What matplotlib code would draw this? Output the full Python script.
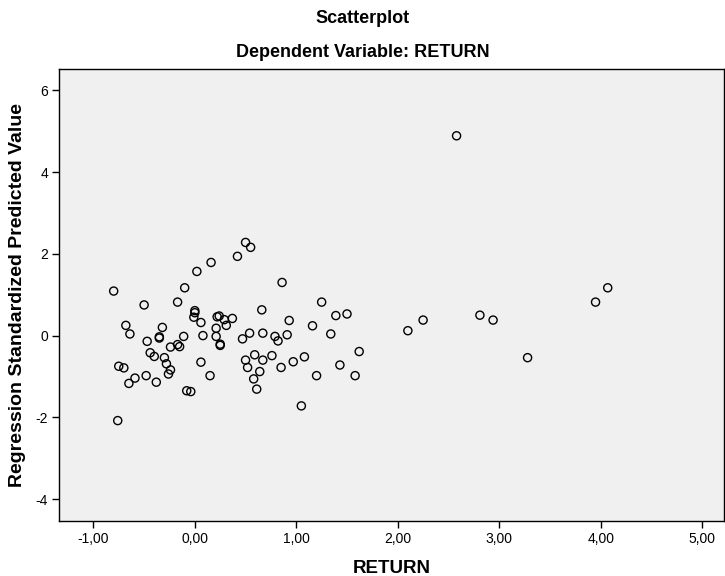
import matplotlib
matplotlib.use('Agg')
import matplotlib.pyplot as plt

plt.rcParams['font.family'] = ['Liberation Sans', 'DejaVu Sans']

# RETURN (x) vs Regression Standardized Predicted Value (y)
ret = [0.50, 0.55, 0.42, 0.16, 0.02, -0.10, -0.80, -0.17, -0.50, 0.00,
       0.00, -0.01, 0.06, 0.22, 0.24, 0.29, 0.37, 0.31, 0.21, -0.68,
       -0.64, -0.32, -0.35, -0.35, -0.11, 0.08, 0.21, 0.47, 0.54, -0.47,
       -0.24, -0.17, -0.15, 0.25, 0.25, -0.44, -0.40, -0.30, -0.28, -0.24,
       -0.26, -0.75, -0.70, -0.59, -0.65, -0.48, -0.38, 0.06, 0.15, -0.08,
       -0.04, -0.76, 0.50, 0.52, 0.59, 0.58, 0.61, 0.86, 1.25, 1.39,
       1.50, 1.16, 1.34, 0.93, 0.66, 0.67, 0.79, 0.82, 0.91, 0.67,
       0.76, 0.64, 0.85, 0.97, 1.08, 1.20, 1.43, 1.58, 1.62, 1.05,
       2.10, 2.25, 2.81, 2.94, 2.58, 3.28, 3.95, 4.07]
pred = [2.28, 2.16, 1.94, 1.79, 1.57, 1.17, 1.09, 0.82, 0.75, 0.61,
        0.56, 0.45, 0.32, 0.46, 0.48, 0.39, 0.42, 0.25, 0.18, 0.25,
        0.04, 0.20, -0.03, -0.06, -0.02, 0.00, -0.02, -0.08, 0.06, -0.14,
        -0.28, -0.22, -0.27, -0.21, -0.24, -0.42, -0.51, -0.54, -0.69, -0.84,
        -0.94, -0.75, -0.79, -1.04, -1.17, -0.98, -1.14, -0.65, -0.98, -1.35,
        -1.37, -2.08, -0.60, -0.78, -0.47, -1.06, -1.31, 1.30, 0.82, 0.49,
        0.53, 0.24, 0.04, 0.37, 0.63, 0.06, -0.02, -0.13, 0.02, -0.60,
        -0.49, -0.88, -0.78, -0.64, -0.52, -0.98, -0.72, -0.98, -0.39, -1.72,
        0.12, 0.38, 0.50, 0.38, 4.89, -0.54, 0.82, 1.17]

xticks = [-1, 0, 1, 2, 3, 4, 5]
xlabels = ['-1,00', '0,00', '1,00', '2,00', '3,00', '4,00', '5,00']
yticks = [-4, -2, 0, 2, 4, 6]
ylabels = ['-4', '-2', '0', '2', '4', '6']

fig = plt.figure(figsize=(7.25, 5.76), dpi=100)
ax = fig.add_axes([0.0818, 0.096, 0.9168, 0.7846])
ax.set_facecolor('#f0f0f0')

ax.scatter(ret, pred, s=34, facecolors='none', edgecolors='black', linewidths=1.0)

ax.set_xlim(-1.336, 5.216)
ax.set_ylim(-4.53, 6.53)
ax.set_xticks(xticks)
ax.set_xticklabels(xlabels)
ax.set_yticks(yticks)
ax.set_yticklabels(ylabels)
ax.tick_params(direction='out', length=5, width=1, labelsize=10, colors='black', pad=3)

for s in ax.spines.values():
    s.set_color('black')
    s.set_linewidth(1)

ax.set_xlabel('RETURN', fontsize=13.5, fontweight='bold', labelpad=10)
ax.set_ylabel('Regression Standardized Predicted Value', fontsize=14, fontweight='bold', labelpad=7)

fig.text(0.5, 0.968, 'Scatterplot', ha='center', va='center', fontsize=13, fontweight='bold')
fig.text(0.5, 0.908, 'Dependent Variable: RETURN', ha='center', va='center', fontsize=13, fontweight='bold')

fig.savefig('out.png', dpi=100)
